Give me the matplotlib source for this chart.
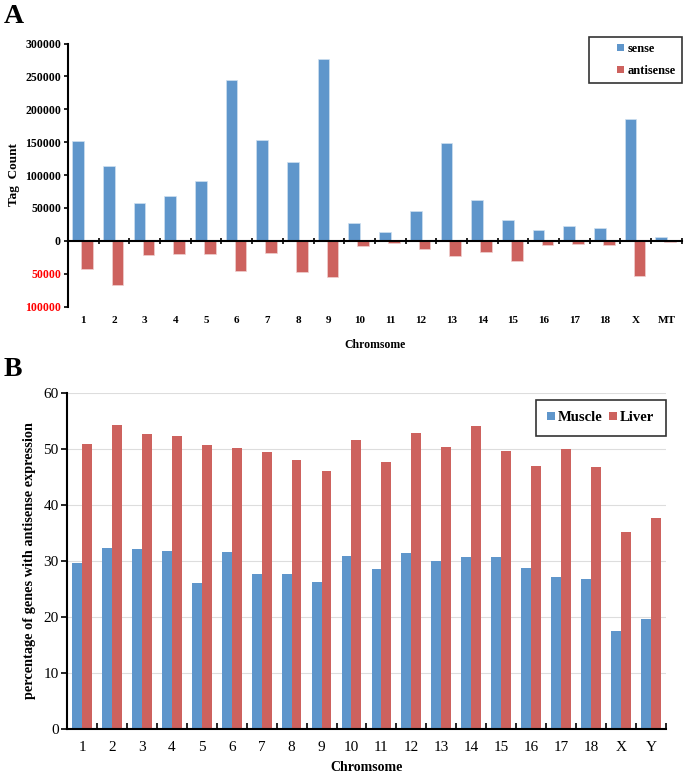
import numpy as np
import matplotlib
matplotlib.use('Agg')
import matplotlib.pyplot as plt
import matplotlib.patches as mpatches
from matplotlib.container import BarContainer
from matplotlib.legend_handler import HandlerPatch
from matplotlib.ticker import FuncFormatter

plt.rcParams['font.family'] = ['Liberation Serif', 'DejaVu Serif']

# panel A data
chrom_a = ['1', '2', '3', '4', '5', '6', '7', '8', '9', '10', '11', '12', '13',
           '14', '15', '16', '17', '18', 'X', 'MT']
sense = [152000, 114000, 57800, 68000, 90500, 244300, 152800, 119600, 277000,
         27100, 13800, 45000, 148700, 61800, 31200, 16400, 22500, 19400,
         184500, 6100]
antisense = [43400, 67000, 21500, 20400, 20000, 46500, 18400, 47500, 55700,
             8200, 3000, 12300, 22500, 17400, 30200, 6600, 5000, 6100,
             53200, 2500]

# panel B data
chrom_b = ['1', '2', '3', '4', '5', '6', '7', '8', '9', '10', '11', '12', '13',
           '14', '15', '16', '17', '18', 'X', 'Y']
muscle = [29.6, 32.3, 32.1, 31.7, 26.1, 31.6, 27.6, 27.6, 26.2, 30.8, 28.5,
          31.4, 29.9, 30.7, 30.7, 28.8, 27.1, 26.7, 17.5, 19.7]
liver = [50.8, 54.2, 52.7, 52.3, 50.7, 50.2, 49.5, 48.0, 46.1, 51.6, 47.6,
         52.9, 50.4, 54.0, 49.7, 47.0, 49.9, 46.8, 35.2, 37.7]

blue = '#5f96cb'
red = '#cd625e'


# small square key pushed to the right end of the handle box (excel look)
def small_square(legend, orig_handle, xdescent, ydescent, width, height, fontsize):
    s = height * 0.85
    return mpatches.Rectangle((-xdescent + width - s, -ydescent + (height - s) / 2), s, s)


def from_first_bar(handle, orig):
    handle.update_from(orig.patches[0])
    handle.set_edgecolor('none')


handler = {BarContainer: HandlerPatch(patch_func=small_square, update_func=from_first_bar)}

fig = plt.figure(figsize=(6.86, 7.78), dpi=100)

# ---------- A ----------
ax = fig.add_axes([0.099, 0.606, 0.895, 0.338])
x = np.arange(len(chrom_a))
ax.bar(x - 0.17, sense, width=0.38, color=blue, edgecolor='#cfe0f0', lw=0.5, label='sense')
ax.bar(x + 0.12, [-v for v in antisense], width=0.38, color=red, edgecolor='#f0d0d0', lw=0.5,
       label='antisense')
ax.set_xlim(-0.5, len(chrom_a) - 0.5)
ax.set_ylim(-100000, 300000)
ax.set_yticks(np.arange(-100000, 300001, 50000))
ax.yaxis.set_major_formatter(FuncFormatter(lambda v, p: '%d' % abs(v)))
for lab in ax.get_yticklabels():
    lab.set_fontweight('bold')
    lab.set_fontsize(8.5)
    if float(lab.get_position()[1]) < 0:
        lab.set_color('red')
ax.spines['top'].set_visible(False)
ax.spines['right'].set_visible(False)
ax.spines['bottom'].set_position(('data', 0))
ax.spines['left'].set_linewidth(1.5)
ax.spines['bottom'].set_linewidth(1.5)
ax.set_xticks(np.arange(-0.5, len(chrom_a), 1))
ax.set_xticklabels([])
ax.tick_params(axis='x', direction='inout', length=5, width=1.2)
ax.tick_params(axis='y', direction='out', length=3, width=1.2, pad=2)
for i, c in enumerate(chrom_a):
    ax.text(i, -121000, c, ha='center', va='center', fontsize=8, fontweight='bold')
ax.text(0.5, -0.147, 'Chromsome', transform=ax.transAxes, ha='center', va='center',
        fontsize=8.5, fontweight='bold')
ax.set_ylabel('Tag  Count', fontsize=9.5, fontweight='bold', labelpad=4)
ax.legend(loc='upper right', bbox_to_anchor=(1.0, 1.025), borderaxespad=0, frameon=True,
          fancybox=False, edgecolor='black', prop={'weight': 'bold', 'size': 9},
          handler_map=handler, handlelength=2.3, handleheight=0.6, handletextpad=0.3,
          borderpad=0.5, labelspacing=0.8)
ax.get_legend().get_frame().set_linewidth(1.2)
fig.text(0.005, 0.995, 'A', fontsize=20, fontweight='bold', va='top', ha='left')

# ---------- B ----------
bx = fig.add_axes([0.0977, 0.063, 0.873, 0.432])
xb = np.arange(len(chrom_b))
bx.bar(xb - 0.165, muscle, width=0.33, color=blue, label='Muscle')
bx.bar(xb + 0.165, liver, width=0.33, color=red, label='Liver')
bx.set_xlim(-0.5, len(chrom_b) - 0.5)
bx.set_ylim(0, 60)
bx.set_yticks(np.arange(0, 61, 10))
bx.yaxis.grid(True, color='#dddddd', lw=0.8)
bx.set_axisbelow(True)
bx.spines['top'].set_visible(False)
bx.spines['right'].set_visible(False)
bx.spines['left'].set_linewidth(1.5)
bx.spines['bottom'].set_linewidth(1.5)
bx.set_xticks(np.arange(-0.5, len(chrom_b), 1))
bx.set_xticklabels([])
bx.tick_params(axis='x', direction='in', length=4, width=1.2)
bx.tick_params(axis='y', direction='out', length=4, width=1.2, labelsize=11, pad=2)
for i, c in enumerate(chrom_b):
    bx.text(i, -3.3, c, ha='center', va='center', fontsize=11)
bx.text(0.5, -0.115, 'Chromsome', transform=bx.transAxes, ha='center', va='center',
        fontsize=10, fontweight='bold')
bx.set_ylabel('percentage of genes with antisense expression', fontsize=10.3,
              fontweight='bold', labelpad=5)
bx.legend(loc='upper right', bbox_to_anchor=(1.0, 0.98), borderaxespad=0, ncol=2,
          frameon=True, fancybox=False, edgecolor='black',
          prop={'weight': 'bold', 'size': 10.5}, handler_map=handler,
          handlelength=0.5, handleheight=0.6, handletextpad=0.2, columnspacing=0.5,
          borderpad=0.8)
bx.get_legend().get_frame().set_linewidth(1.2)
fig.text(0.005, 0.541, 'B', fontsize=20, fontweight='bold', va='top', ha='left')

fig.savefig('out.png', dpi=100)
